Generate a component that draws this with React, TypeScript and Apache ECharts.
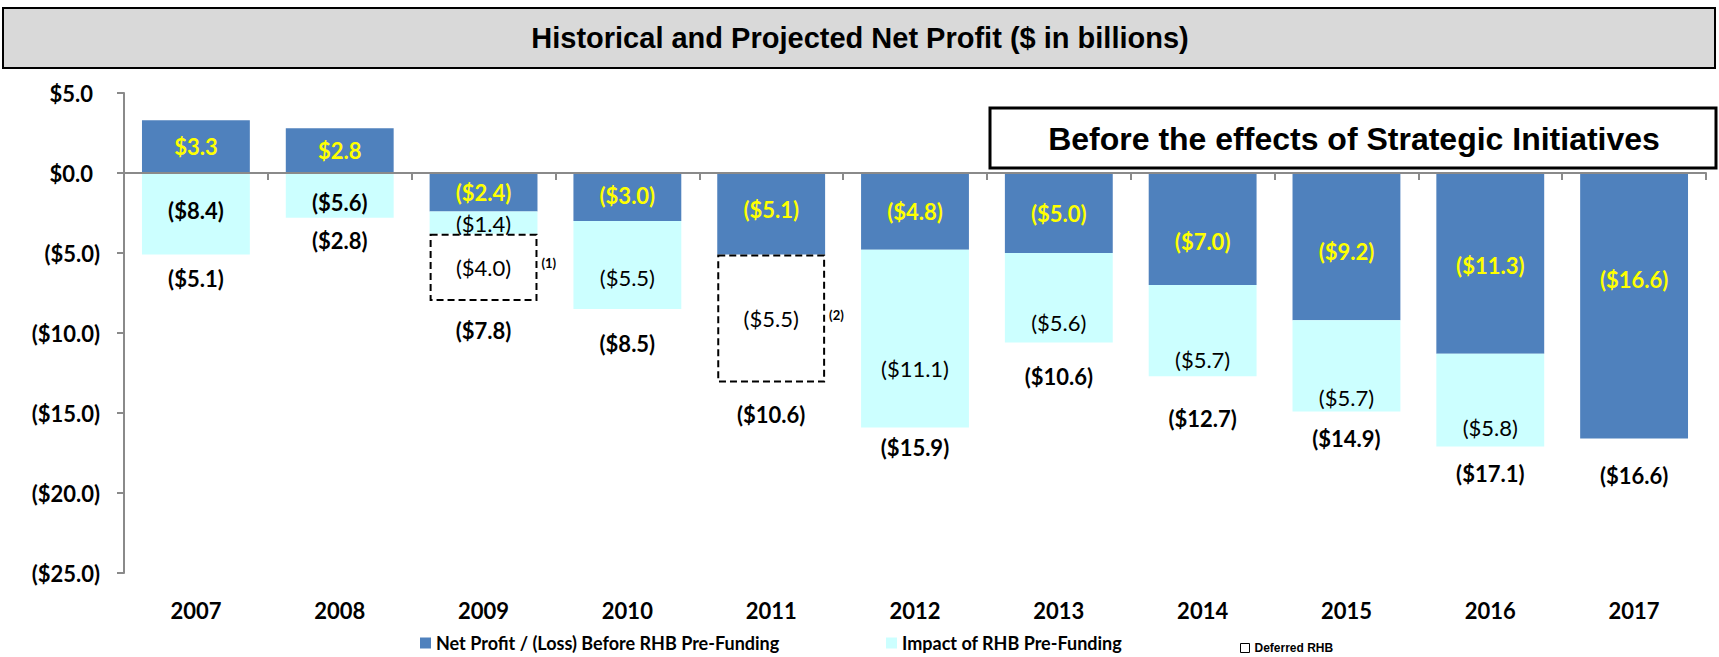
import React, { useEffect, useRef } from 'react';
import * as echarts from 'echarts';

// ---- Data ----
const years = ['2007', '2008', '2009', '2010', '2011', '2012', '2013', '2014', '2015', '2016', '2017'];
// Net Profit / (Loss) Before RHB Pre-Funding
const netProfit = [3.3, 2.8, -2.4, -3.0, -5.1, -4.8, -5.0, -7.0, -9.2, -11.3, -16.6];
// Impact of RHB Pre-Funding (label values)
const rhbImpact: (number | null)[] = [-8.4, -5.6, -1.4, -5.5, null, -11.1, -5.6, -5.7, -5.7, -5.8, null];
// Deferred RHB (label values)
const deferredRhb: (number | null)[] = [null, null, -4.0, null, -5.5, null, null, null, null, null, null];
// Visual extent of the dashed deferred boxes as drawn in the picture
const deferredBoxDrawn: (number | null)[] = [null, null, -4.2, null, -8.0, null, null, null, null, null, null];
const noteMarks: (string | null)[] = [null, null, '(1)', null, '(2)', null, null, null, null, null, null];

const yMin = -25;
const yMax = 5;
const yStep = 5;

const seriesNames = ['Net Profit / (Loss) Before RHB Pre-Funding', 'Impact of RHB Pre-Funding', 'Deferred RHB'];

// ---- Layout tweaks (label nudges in px, separate from the data) ----
const netLabelShift = [0, 0, 0, -2, -4, 0, 0, 12, 5, 2, -26];
const impactLabelShift = [-3, 7, 1, 12, 0, 30, 25, 29, 32, 27, 0];
const totalLabelGap = [13, 12, 18, 23, 21, 9, 23, 31, 16, 16, 26];

const r1 = (v: number) => Math.round(v * 10) / 10;
const fmt = (v: number) => (v < 0 ? `($${Math.abs(v).toFixed(1)})` : `$${v.toFixed(1)}`);

const BLUE = '#4F81BD';
const CYAN = '#CCFFFF';
const AXIS = '#8a8a8a';
const NUM_FONT = 'Lato';
const CLEAR = 'rgba(0,0,0,0)';

export default function App() {
  const ref = useRef<HTMLDivElement>(null);

  useEffect(() => {
    const chart = echarts.init(ref.current!, null, { renderer: 'svg' });

    // cyan segment as drawn: for profitable years it shows the net result below zero
    const impactDrawn = rhbImpact.map((v, i) =>
      v == null ? null : netProfit[i] > 0 ? r1(netProfit[i] + v) : v
    );
    const totals = years.map((_, i) => r1(netProfit[i] + (rhbImpact[i] ?? 0) + (deferredRhb[i] ?? 0)));
    const drawnBottom = years.map((_, i) => {
      let s = 0;
      [netProfit[i], impactDrawn[i], deferredBoxDrawn[i]].forEach((v) => {
        if (v != null && v < 0) s += v;
      });
      return r1(s);
    });
    const noteAnchor = years.map((_, i) => {
      if (noteMarks[i] == null || deferredBoxDrawn[i] == null) return null;
      let base = 0;
      [netProfit[i], impactDrawn[i]].forEach((v) => {
        if (v != null && v < 0) base += v;
      });
      return r1(base + (deferredBoxDrawn[i] as number) / 2);
    });

    const numLabel = {
      fontFamily: NUM_FONT,
      fontSize: 22,
      fontWeight: 'bold' as const,
    };
    const noStroke = { textBorderWidth: 0, textBorderColor: CLEAR, textShadowBlur: 0 };
    const legendText = { fontFamily: NUM_FONT, fontWeight: 'bold', fontSize: 18, color: '#000' };

    const option: any = {
      animation: false,
      backgroundColor: '#ffffff',
      grid: { left: 124, right: 13, top: 93, bottom: 84, containLabel: false },
      legend: [
        {
          data: [seriesNames[0]],
          left: 420,
          top: 634,
          padding: 0,
          itemWidth: 11,
          itemHeight: 11,
          icon: 'rect',
          selectedMode: false,
          textStyle: legendText,
        },
        {
          data: [seriesNames[1]],
          left: 886,
          top: 634,
          padding: 0,
          itemWidth: 11,
          itemHeight: 11,
          icon: 'rect',
          selectedMode: false,
          textStyle: legendText,
        },
        {
          data: [
            {
              name: seriesNames[2],
              icon: 'rect',
              itemStyle: { color: '#ffffff', borderColor: '#000', borderWidth: 1, borderType: 'solid' },
            },
          ],
          left: 1240,
          top: 642,
          padding: 0,
          itemWidth: 9,
          itemHeight: 9,
          selectedMode: false,
          textStyle: { fontFamily: 'Liberation Sans', fontWeight: 'bold', fontSize: 12, color: '#000' },
        },
      ],
      xAxis: [
        {
          type: 'category',
          data: years,
          position: 'top',
          z: 10,
          axisLine: { show: true, onZero: true, lineStyle: { color: AXIS, width: 2 } },
          axisTick: { show: true, inside: true, length: 7, interval: 0, lineStyle: { color: AXIS, width: 2 } },
          axisLabel: { show: false },
          splitLine: { show: false },
        },
        {
          type: 'category',
          data: years,
          position: 'bottom',
          axisLine: { show: false, onZero: false },
          axisTick: { show: false },
          axisLabel: { show: true, margin: 26, color: '#000', interval: 0, ...numLabel },
          splitLine: { show: false },
        },
      ],
      yAxis: {
        type: 'value',
        min: yMin,
        max: yMax,
        interval: yStep,
        axisLine: { show: true, onZero: false, lineStyle: { color: AXIS, width: 2 } },
        axisTick: { show: true, length: 7, lineStyle: { color: AXIS, width: 2 } },
        splitLine: { show: false },
        axisLabel: {
          margin: 24,
          color: '#000',
          ...numLabel,
          formatter: (v: number) => (v >= 0 ? `{pos|${fmt(v)}}` : fmt(v)),
          rich: {
            pos: { ...numLabel, color: '#000', padding: [0, 7, 0, 0] },
          },
        },
      },
      series: [
        {
          name: seriesNames[0],
          type: 'bar',
          stack: 'np',
          barCategoryGap: '25%',
          barGap: '-100%',
          itemStyle: { color: BLUE },
          data: netProfit.map((v, i) => ({ value: v, label: { offset: [0, netLabelShift[i]] } })),
          label: {
            show: true,
            position: 'inside',
            color: '#FFFF00',
            ...numLabel,
            ...noStroke,
            formatter: (p: any) => fmt(netProfit[p.dataIndex]),
          },
        },
        {
          name: seriesNames[1],
          type: 'bar',
          stack: 'np',
          barCategoryGap: '25%',
          barGap: '-100%',
          itemStyle: { color: CYAN },
          data: impactDrawn.map((v, i) =>
            v == null
              ? null
              : {
                  value: v,
                  label: {
                    offset: [0, impactLabelShift[i]],
                    fontWeight: netProfit[i] > 0 ? 'bold' : 'normal',
                  },
                }
          ),
          label: {
            show: true,
            position: 'inside',
            color: '#000',
            fontFamily: NUM_FONT,
            fontSize: 22,
            ...noStroke,
            formatter: (p: any) => {
              const v = rhbImpact[p.dataIndex];
              return v == null ? '' : fmt(v);
            },
          },
        },
        {
          name: seriesNames[2],
          type: 'bar',
          stack: 'np',
          barCategoryGap: '25%',
          barGap: '-100%',
          itemStyle: { color: '#ffffff', borderColor: '#000', borderWidth: 2, borderType: [7, 4] },
          data: deferredBoxDrawn,
          label: {
            show: true,
            position: 'inside',
            color: '#000',
            fontFamily: NUM_FONT,
            fontSize: 22,
            ...noStroke,
            formatter: (p: any) => {
              const v = deferredRhb[p.dataIndex];
              return v == null ? '' : fmt(v);
            },
          },
        },
        {
          // transparent overlay bar reaching the bottom of each drawn column, carrying the total label
          name: 'Total',
          type: 'bar',
          stack: 'total',
          barCategoryGap: '25%',
          barGap: '-100%',
          z: 4,
          itemStyle: { color: CLEAR },
          data: drawnBottom.map((v, i) => ({ value: v, label: { distance: totalLabelGap[i] } })),
          label: {
            show: true,
            position: 'bottom',
            color: '#000',
            ...numLabel,
            ...noStroke,
            formatter: (p: any) => fmt(totals[p.dataIndex]),
          },
        },
        {
          // transparent overlay bar reaching the middle of each dashed box, carrying the footnote mark
          name: 'Notes',
          type: 'bar',
          stack: 'notes',
          barCategoryGap: '25%',
          barGap: '-100%',
          z: 4,
          itemStyle: { color: CLEAR },
          data: noteAnchor,
          label: {
            show: true,
            position: ['100%', '100%'],
            align: 'left',
            verticalAlign: 'middle',
            offset: [4, -4],
            color: '#000',
            fontFamily: NUM_FONT,
            fontWeight: 'bold',
            fontSize: 13,
            ...noStroke,
            formatter: (p: any) => noteMarks[p.dataIndex] ?? '',
          },
        },
      ],
      graphic: [
        {
          type: 'rect',
          shape: { x: 3, y: 8, width: 1712, height: 60 },
          style: { fill: '#d9d9d9', stroke: '#000', lineWidth: 2 },
          z: 0,
        },
        {
          type: 'text',
          x: 860,
          y: 38,
          style: {
            text: 'Historical and Projected Net Profit ($ in billions)',
            fontFamily: 'Liberation Sans',
            fontWeight: 'bold',
            fontSize: 29,
            fill: '#000',
            align: 'center',
            verticalAlign: 'middle',
          },
          z: 1,
        },
        {
          type: 'rect',
          shape: { x: 990, y: 108, width: 726, height: 60 },
          style: { fill: '#ffffff', stroke: '#000', lineWidth: 3 },
          z: 0,
        },
        {
          type: 'text',
          x: 1354,
          y: 139,
          style: {
            text: 'Before the effects of Strategic Initiatives',
            fontFamily: 'Liberation Sans',
            fontWeight: 'bold',
            fontSize: 32,
            fill: '#000',
            align: 'center',
            verticalAlign: 'middle',
          },
          z: 1,
        },
      ],
    };

    chart.setOption(option);
    return () => chart.dispose();
  }, []);

  return (
    <div
      ref={ref}
      style={{ position: 'absolute', left: 0, top: 0, width: 1719, height: 657, background: '#fff' }}
    />
  );
}
